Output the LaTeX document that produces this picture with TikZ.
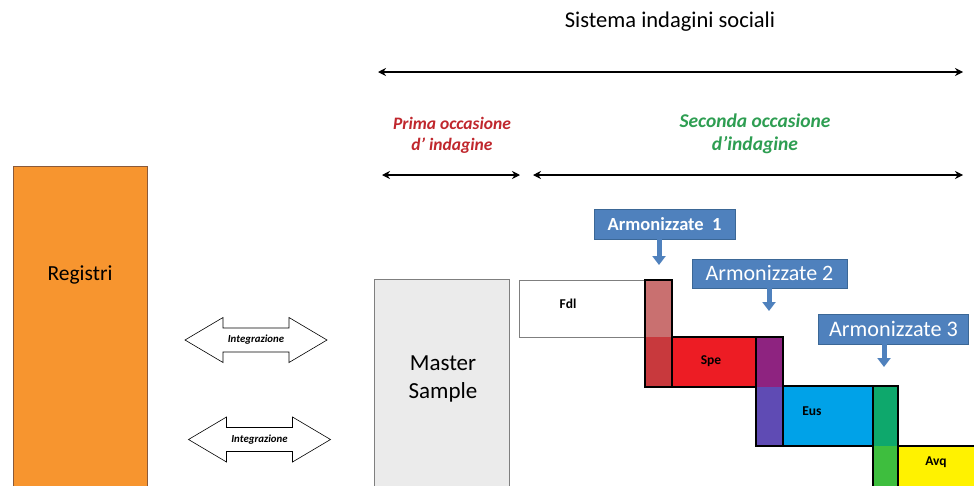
\documentclass[tikz,border=0pt]{standalone}
\usepackage{fontspec}
\setmainfont{Carlito}
\usetikzlibrary{arrows.meta,calc}
\definecolor{regorange}{HTML}{F7952F}
\definecolor{regborder}{HTML}{8A5A3A}
\definecolor{mastergray}{HTML}{EBEBEB}
\definecolor{boxgray}{HTML}{7F7F7F}
\definecolor{primared}{HTML}{C0272D}
\definecolor{secgreen}{HTML}{2E9E52}
\definecolor{armblue}{HTML}{4F81BD}
\definecolor{armedge}{HTML}{3B6796}
\definecolor{spered}{HTML}{ED1C24}
\definecolor{eusblue}{HTML}{00A2E8}
\definecolor{avqyellow}{HTML}{FFF200}
\definecolor{colAtop}{HTML}{C97070}
\definecolor{colAbot}{HTML}{C8393D}
\definecolor{colBtop}{HTML}{8E2380}
\definecolor{colBbot}{HTML}{5F4BB4}
\definecolor{colCtop}{HTML}{0EA86C}
\definecolor{colCbot}{HTML}{3EBE3E}
\tikzset{
  span/.style={line width=1.1pt, {Stealth[length=8pt,width=8pt]}-{Stealth[length=8pt,width=8pt]}},
  rectbox/.style={anchor=north west, inner sep=0pt, outer sep=0pt},
  survey/.style={draw=black, line width=2.6pt},
  armbox/.style={fill=armblue, draw=armedge, line width=0.8pt, text=white, inner sep=0pt, outer sep=0pt},
  armarrow/.style={draw=armblue, line width=5pt, -{Triangle[width=13pt,length=9pt]}},
  tag/.style={font=\bfseries\fontsize{13.5}{15}\selectfont},
  dblarrow/.pic={\draw[fill=white, line width=0.6pt]
    (-71,0) -- (-33,-22.5) -- (-33,-12) -- (33,-12) -- (33,-22.5) -- (71,0)
    -- (33,22.5) -- (33,12) -- (-33,12) -- (-33,22.5) -- cycle;}
}
\begin{document}
\begin{tikzpicture}[x=1pt,y=-1pt]
\useasboundingbox (0,0) rectangle (974,485);
\fill[white] (0,0) rectangle (974,485);
\clip (0,0) rectangle (974,485);

% title and spans
\node (title) at (670,22) {\fontsize{22.5}{26}\selectfont Sistema indagini sociali};
\coordinate (sysL) at (378,72);
\coordinate (sysR) at (963,72);
\draw[span] (sysL) -- (sysR);

\node[align=center, text=primared, font=\bfseries\itshape\fontsize{17.5}{21}\selectfont] (prima) at (452,135) {Prima occasione\\d’ indagine};
\node[align=center, text=secgreen, font=\bfseries\itshape\fontsize{19.5}{23}\selectfont] (seconda) at (755,134) {Seconda occasione\\d’indagine};
\coordinate (pL) at (382,175);
\coordinate (pR) at (520,175);
\coordinate (sL) at (533,175);
\coordinate (sR) at (963,175);
\draw[span] (pL) -- (pR);
\draw[span] (sL) -- (sR);

% registers
\node[rectbox, fill=regorange, draw=regborder, line width=0.8pt, minimum width=134, minimum height=340] (reg) at (13,166) {};
\node (regt) at (80,275) {\fontsize{21.5}{24}\selectfont Registri};

% integration arrows
\pic at (256,340) {dblarrow};
\node[font=\bfseries\itshape\fontsize{10.8}{12}\selectfont] (int1) at (256,340) {Integrazione};
\pic at (259.5,439.5) {dblarrow};
\node[font=\bfseries\itshape\fontsize{10.8}{12}\selectfont] (int2) at (259.5,439.5) {Integrazione};

% master sample
\node[rectbox, fill=mastergray, draw=boxgray, line width=0.9pt, minimum width=135, minimum height=230] (master) at (374,279) {};
\node[align=center, font=\fontsize{23}{28}\selectfont] (mastert) at (443,379) {Master\\Sample};

% surveys
\node[rectbox, fill=white, draw=boxgray, line width=0.9pt, minimum width=126, minimum height=57] (fdl) at (519,280) {};
\node[tag] (fdlt) at (568,304) {Fdl};
\node[rectbox, fill=spered, survey, minimum width=111, minimum height=50] (spe) at (672,337) {};
\node[tag] (spet) at (711,361) {Spe};
\node[rectbox, fill=eusblue, survey, minimum width=115, minimum height=60] (eus) at (783,386) {};
\node[tag] (eust) at (812,411) {Eus};
\node[rectbox, fill=avqyellow, survey, minimum width=100, minimum height=60] (avq) at (898,446) {};
\node[tag] (avqt) at (936,462) {Avq};

% harmonised overlap columns
\fill[colAtop] (645,280) rectangle (672,337);
\fill[colAbot] (645,337) rectangle (672,387);
\draw[line width=2.6pt] (645,280) rectangle (672,387);
\fill[colBtop] (756,337) rectangle (783,387);
\fill[colBbot] (756,387) rectangle (783,446);
\draw[line width=2.6pt] (756,337) rectangle (783,446);
\fill[colCtop] (873,386) rectangle (898,446);
\fill[colCbot] (873,446) rectangle (898,500);
\draw[line width=2.6pt] (873,386) rectangle (898,500);

% harmonised labels
\node[armbox, minimum width=141, minimum height=30, font=\bfseries\fontsize{18.5}{20}\selectfont] (arm1) at (664.5,224) {Armonizzate\ \ 1};
\coordinate (arm1tip) at (659,265);
\draw[armarrow] (arm1tip |- arm1.south) -- (arm1tip);
\node[armbox, minimum width=155, minimum height=29, font=\fontsize{22}{24}\selectfont] (arm2) at (769.5,273.5) {Armonizzate 2};
\coordinate (arm2tip) at (769,311);
\draw[armarrow] (arm2tip |- arm2.south) -- (arm2tip);
\node[armbox, minimum width=150, minimum height=30, font=\fontsize{22.2}{24}\selectfont] (arm3) at (893.5,329) {Armonizzate 3};
\coordinate (arm3tip) at (884,367);
\draw[armarrow] (arm3tip |- arm3.south) -- (arm3tip);
\end{tikzpicture}
\end{document}
